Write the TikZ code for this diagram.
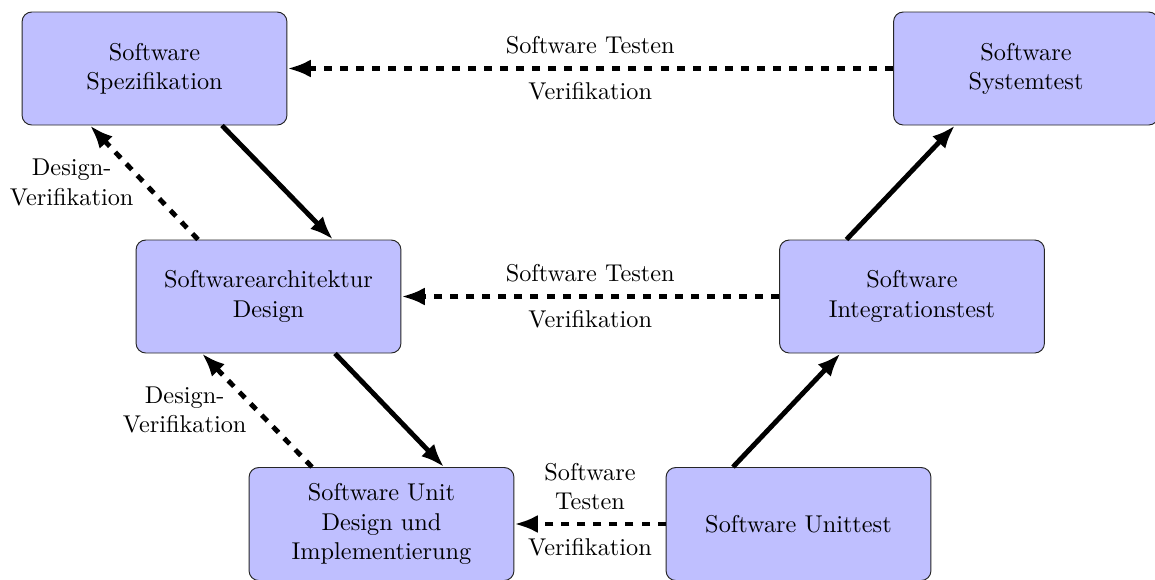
\documentclass[tikz,border=0pt]{standalone}
\usetikzlibrary{arrows.meta,calc}

\tikzset{
  stage/.style={draw=black!85, fill=blue!25, rounded corners=4pt,
    minimum width=109pt, minimum height=46.5pt, align=center, inner sep=3pt},
  flow/.style={line width=2pt, -{Latex[length=9.6pt,width=7.4pt]}},
  verify/.style={line width=2pt, dash pattern=on 3.3pt off 3.3pt,
    -{Latex[length=9.6pt,width=7.4pt]}},
  lbl/.style={align=center}
}

\begin{document}
\begin{tikzpicture}[x=0.4115pt, y=-0.4115pt]
  \useasboundingbox (0,0) rectangle (1155,579);

  % left branch of the V
  \node[stage] (spec)  at (154.5,68.5) {Software\\Spezifikation};
  \node[stage] (arch)  at (268.5,296.5) {Softwarearchitektur\\Design};
  \node[stage] (unitd) at (381.5,524) {Software Unit\\Design und\\Implementierung};

  % right branch of the V
  \node[stage] (unitt) at (798.5,524) {Software Unittest};
  \node[stage] (integ) at (912,296.5) {Software\\Integrationstest};
  \node[stage] (sys)   at (1026,68.5) {Software\\Systemtest};

  % development flow
  \draw[flow] ($(spec.south)+(67.5,0)$) -- ($(arch.north)+(64.5,0)$);
  \draw[flow] ($(arch.south)+(66.5,0)$) -- ($(unitd.north)+(62.5,0)$);
  \draw[flow] ($(unitt.north)+(-65.5,0)$) -- ($(integ.south)+(-71.5,0)$);
  \draw[flow] ($(integ.north)+(-65.5,0)$) -- ($(sys.south)+(-71,0)$);

  % test verification back to the design levels
  \draw[verify] (sys.west) -- (spec.east)
    node[midway, above=1.5pt, lbl] {Software Testen}
    node[midway, below=1.5pt, lbl] {Verifikation};
  \draw[verify] (integ.west) -- (arch.east)
    node[midway, above=1.5pt, lbl] {Software Testen}
    node[midway, below=1.5pt, lbl] {Verifikation};
  \draw[verify] (unitt.west) -- (unitd.east)
    node[midway, above=1.5pt, lbl] {Software\\Testen}
    node[midway, below=1.5pt, lbl] {Verifikation};

  % design verification between the design levels
  \draw[verify] ($(arch.north)+(-70.5,0)$) -- ($(spec.south)+(-64.5,0)$)
    node[midway, left, lbl] {Design-\\Verifikation};
  \draw[verify] ($(unitd.north)+(-69.5,0)$) -- ($(arch.south)+(-66.5,0)$)
    node[midway, left, lbl] {Design-\\Verifikation};
\end{tikzpicture}
\end{document}
